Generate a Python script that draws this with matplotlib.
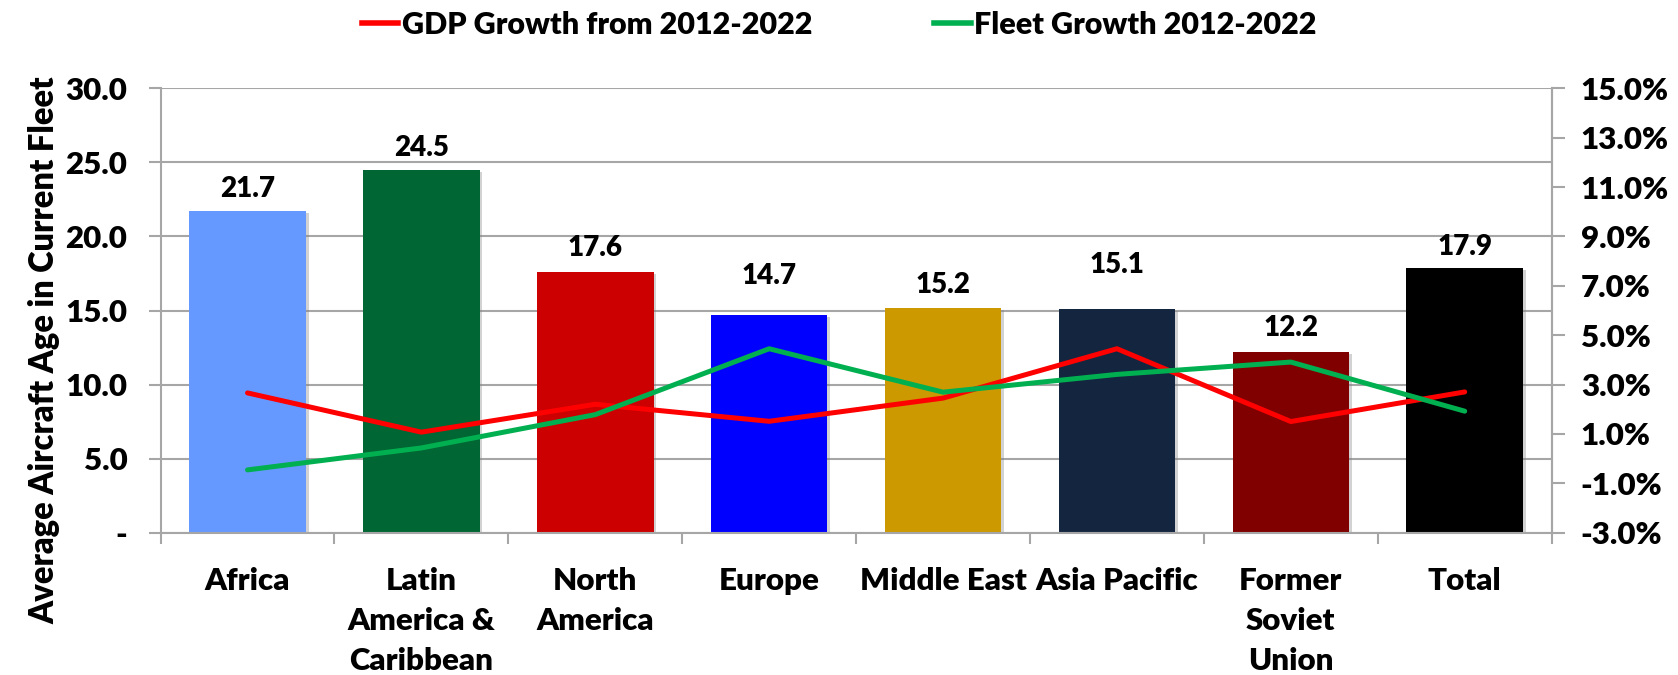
import matplotlib
matplotlib.use("Agg")
import matplotlib.pyplot as plt
import matplotlib.patheffects as pe
from matplotlib.lines import Line2D
from matplotlib.ticker import FuncFormatter, FixedLocator

plt.rcParams['font.family'] = ['Lato', 'DejaVu Sans']
W = 'heavy'
plt.rcParams['font.weight'] = W

categories = ["Africa", "Latin\nAmerica &\nCaribbean", "North\nAmerica", "Europe",
              "Middle East", "Asia Pacific", "Former\nSoviet\nUnion", "Total"]
avg_age = [21.7, 24.5, 17.6, 14.7, 15.2, 15.1, 12.2, 17.9]
gdp_growth = [2.66, 1.07, 2.20, 1.51, 2.45, 4.45, 1.50, 2.70]
fleet_growth = [-0.46, 0.43, 1.78, 4.45, 2.69, 3.41, 3.91, 1.92]
bar_colors = ["#6699FF", "#006633", "#CC0000", "#0000FF", "#CC9900", "#13253F", "#800000", "#000000"]
label_offsets = [1.5, 1.5, 1.6, 2.6, 1.5, 3.0, 1.6, 1.4]

left_ticks = [0, 5, 10, 15, 20, 25, 30]
right_ticks = [-3, -1, 1, 3, 5, 7, 9, 11, 13, 15]

GRAY = "#A6A6A6"
TFS = 22.5
CFS = 22.5

fig = plt.figure(figsize=(16.78, 6.75), dpi=100)
ax = fig.add_axes([0.0957, 0.211, 0.829, 0.658])
xs = list(range(len(categories)))

bars = ax.bar(xs, avg_age, width=0.67, color=bar_colors, zorder=2)
for b in bars:
    b.set_path_effects([pe.SimplePatchShadow(offset=(2, -1.5), shadow_rgbFace='#808080', alpha=0.35),
                        pe.Normal()])
for xi, v, off in zip(xs, avg_age, label_offsets):
    ax.text(xi, v + off, f"{v:.1f}", ha='center', va='center', fontsize=20,
            fontweight=W, color='black', zorder=5)

ax.set_xlim(-0.5, len(categories) - 0.5)
ax.set_ylim(0, 30)
ax.yaxis.set_major_locator(FixedLocator(left_ticks))
ax.yaxis.set_major_formatter(FuncFormatter(lambda v, p: "-" if v == 0 else f"{v:.1f}"))
ax.grid(axis='y', color=GRAY, linewidth=1.5, zorder=0)
ax.set_axisbelow(True)

ax.set_xticks(xs)
ax.set_xticklabels(categories, fontsize=CFS, fontweight=W, linespacing=1.52, va='top')
ax.tick_params(axis='x', which='major', length=0, pad=25)
ax.set_xticks([i - 0.5 for i in range(len(categories) + 1)], minor=True)
ax.tick_params(axis='x', which='minor', length=8, width=1.5, color=GRAY, direction='out')
ax.tick_params(axis='y', length=9, width=1.5, color=GRAY, labelsize=TFS, pad=15)
for lab in ax.get_yticklabels():
    lab.set_fontweight(W)

ax.spines['top'].set_visible(False)
for s in ['left', 'right', 'bottom']:
    ax.spines[s].set_color(GRAY)
    ax.spines[s].set_linewidth(1.5)

ax.set_ylabel("Average Aircraft Age in Current Fleet", fontsize=23.5, fontweight=W, labelpad=10)
ax.yaxis.set_label_coords(-0.072, 0.41)

ax2 = ax.twinx()
ax2.plot(xs, gdp_growth, color="#FF0000", linewidth=3.6, solid_capstyle='round', zorder=3)
ax2.plot(xs, fleet_growth, color="#00B050", linewidth=3.6, solid_capstyle='round', zorder=3)
ax2.set_ylim(-3, 15)
ax2.yaxis.set_major_locator(FixedLocator(right_ticks))
ax2.yaxis.set_major_formatter(FuncFormatter(lambda v, p: f"{v:.1f}%"))
ax2.tick_params(axis='y', length=9, width=1.5, color=GRAY, labelsize=TFS, pad=12)
for lab in ax2.get_yticklabels():
    lab.set_fontweight(W)
for s in ['top', 'left', 'bottom']:
    ax2.spines[s].set_visible(False)
ax2.spines['right'].set_color(GRAY)
ax2.spines['right'].set_linewidth(1.5)

handles = [Line2D([0], [0], color="#FF0000", lw=4),
           Line2D([0], [0], color="#00B050", lw=4)]
fig.legend(handles, ["GDP Growth from 2012-2022", "Fleet Growth 2012-2022"],
           loc='upper center', bbox_to_anchor=(0.5, 1.025), ncol=2, frameon=False,
           prop={'size': 22, 'weight': W}, handlelength=1.2, handletextpad=0.1,
           columnspacing=4.0)

fig.savefig("out.png", dpi=100)
